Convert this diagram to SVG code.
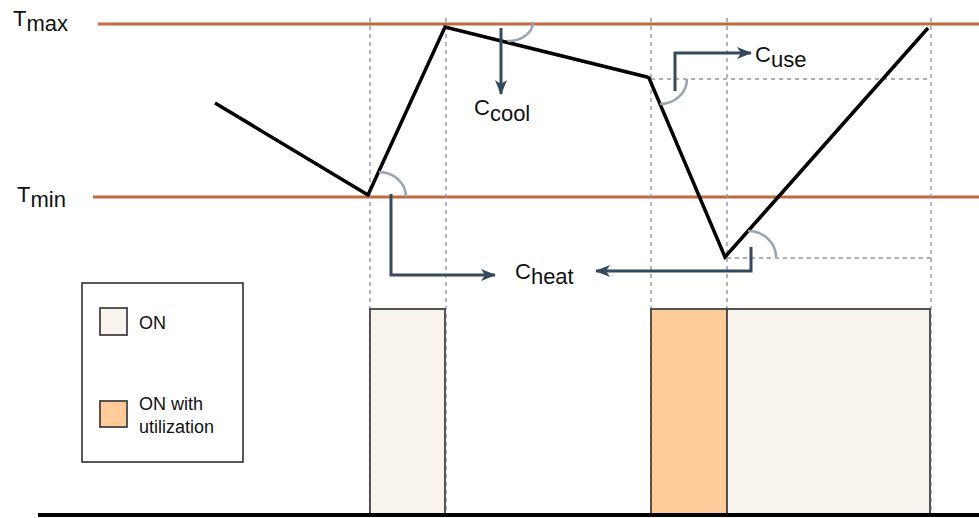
<svg xmlns="http://www.w3.org/2000/svg" width="979" height="518" viewBox="0 0 979 518">
  <style>
    text { font-family: "Liberation Sans", Arial, sans-serif; fill: #111; }
    .lbl { font-size: 22px; }
    .leg { font-size: 18px; }
    .limit { stroke: #c1693f; stroke-width: 3; fill: none; }
    .grid { stroke: #8f98a5; stroke-width: 1.4; stroke-dasharray: 4 4; fill: none; }
    .temp { stroke: #000; stroke-width: 3.5; fill: none; stroke-linejoin: miter; }
    .angle { stroke: #99a3af; stroke-width: 2.5; fill: none; }
    .flow { stroke: #34495e; stroke-width: 3; fill: none; }
    .on { fill: #f7f4ec; stroke: #444; stroke-width: 1.8; }
    .util { fill: #ffcc99; stroke: #444; stroke-width: 1.8; }
  </style>
  <defs>
    <marker id="arrow" viewBox="0 0 15 12" refX="14" refY="6" markerWidth="15" markerHeight="12" markerUnits="userSpaceOnUse" orient="auto">
      <path d="M0,0 L15,6 L0,12 L4,6 Z" fill="#34495e"/>
    </marker>
  </defs>

  <!-- temperature limits -->
  <g id="limits">
    <line class="limit" x1="98" y1="24" x2="979" y2="24"/>
    <line class="limit" x1="93" y1="197" x2="979" y2="197"/>
    <text class="lbl" x="13" y="26">T<tspan dy="5">max</tspan></text>
    <text class="lbl" x="17" y="202">T<tspan dy="5">min</tspan></text>
  </g>

  <!-- time grid -->
  <g id="grid">
    <line class="grid" x1="370" y1="18" x2="370" y2="513"/>
    <line class="grid" x1="446" y1="18" x2="446" y2="513"/>
    <line class="grid" x1="651" y1="18" x2="651" y2="513"/>
    <line class="grid" x1="727" y1="18" x2="727" y2="513"/>
    <line class="grid" x1="931" y1="18" x2="931" y2="513"/>
    <line class="grid" x1="651" y1="79" x2="931" y2="79"/>
    <line class="grid" x1="727" y1="258" x2="931" y2="258"/>
  </g>

  <!-- on-state bars -->
  <g id="bar-on-1"><rect class="on" x="370" y="309" width="75" height="206"/></g>
  <g id="bar-util"><rect class="util" x="651" y="309" width="76" height="206"/></g>
  <g id="bar-on-2"><rect class="on" x="727" y="309" width="203" height="206"/></g>

  <!-- temperature curve -->
  <g id="temperature">
    <polyline class="temp" points="215,103 368,195 445,27 647,77 649,78 725,257 928,28"/>
  </g>

  <!-- slope angle marks -->
  <g id="angles">
    <path class="angle" d="M379,172 A27,25 0 0 1 406,197"/>
    <path class="angle" d="M508,41 A25,19 0 0 0 533,22"/>
    <path class="angle" d="M660,104 A27,25 0 0 0 687,79"/>
    <path class="angle" d="M748,231 A28,26 0 0 1 776,257"/>
  </g>

  <!-- cost arrows -->
  <g id="connectors">
    <path class="flow" d="M501,28 L501,94" marker-end="url(#arrow)"/>
    <path class="flow" d="M675,91 L675,53 L751,53" marker-end="url(#arrow)"/>
    <path class="flow" d="M391,194 L391,275 L495,275" marker-end="url(#arrow)"/>
    <path class="flow" d="M751,247 L751,271 L596,271" marker-end="url(#arrow)"/>
  </g>

  <!-- cost labels -->
  <g id="c-cool"><text class="lbl" x="474" y="115">C<tspan dy="6">cool</tspan></text></g>
  <g id="c-use"><text class="lbl" x="755" y="62">C<tspan dy="5">use</tspan></text></g>
  <g id="c-heat"><text class="lbl" x="515" y="279">C<tspan dy="5">heat</tspan></text></g>

  <!-- legend -->
  <g id="legend">
    <rect x="82" y="283" width="161" height="179" fill="#fff" stroke="#222" stroke-width="1.5"/>
    <rect class="on" x="100" y="308" width="27" height="27" stroke-width="1.5"/>
    <text class="leg" x="139" y="329">ON</text>
    <rect class="util" x="100" y="401" width="27" height="26" stroke-width="1.5"/>
    <text class="leg" x="139" y="410">ON with</text>
    <text class="leg" x="139" y="433">utilization</text>
  </g>

  <!-- time axis -->
  <g id="axis">
    <line x1="38" y1="515" x2="979" y2="515" stroke="#000" stroke-width="4"/>
  </g>
</svg>
